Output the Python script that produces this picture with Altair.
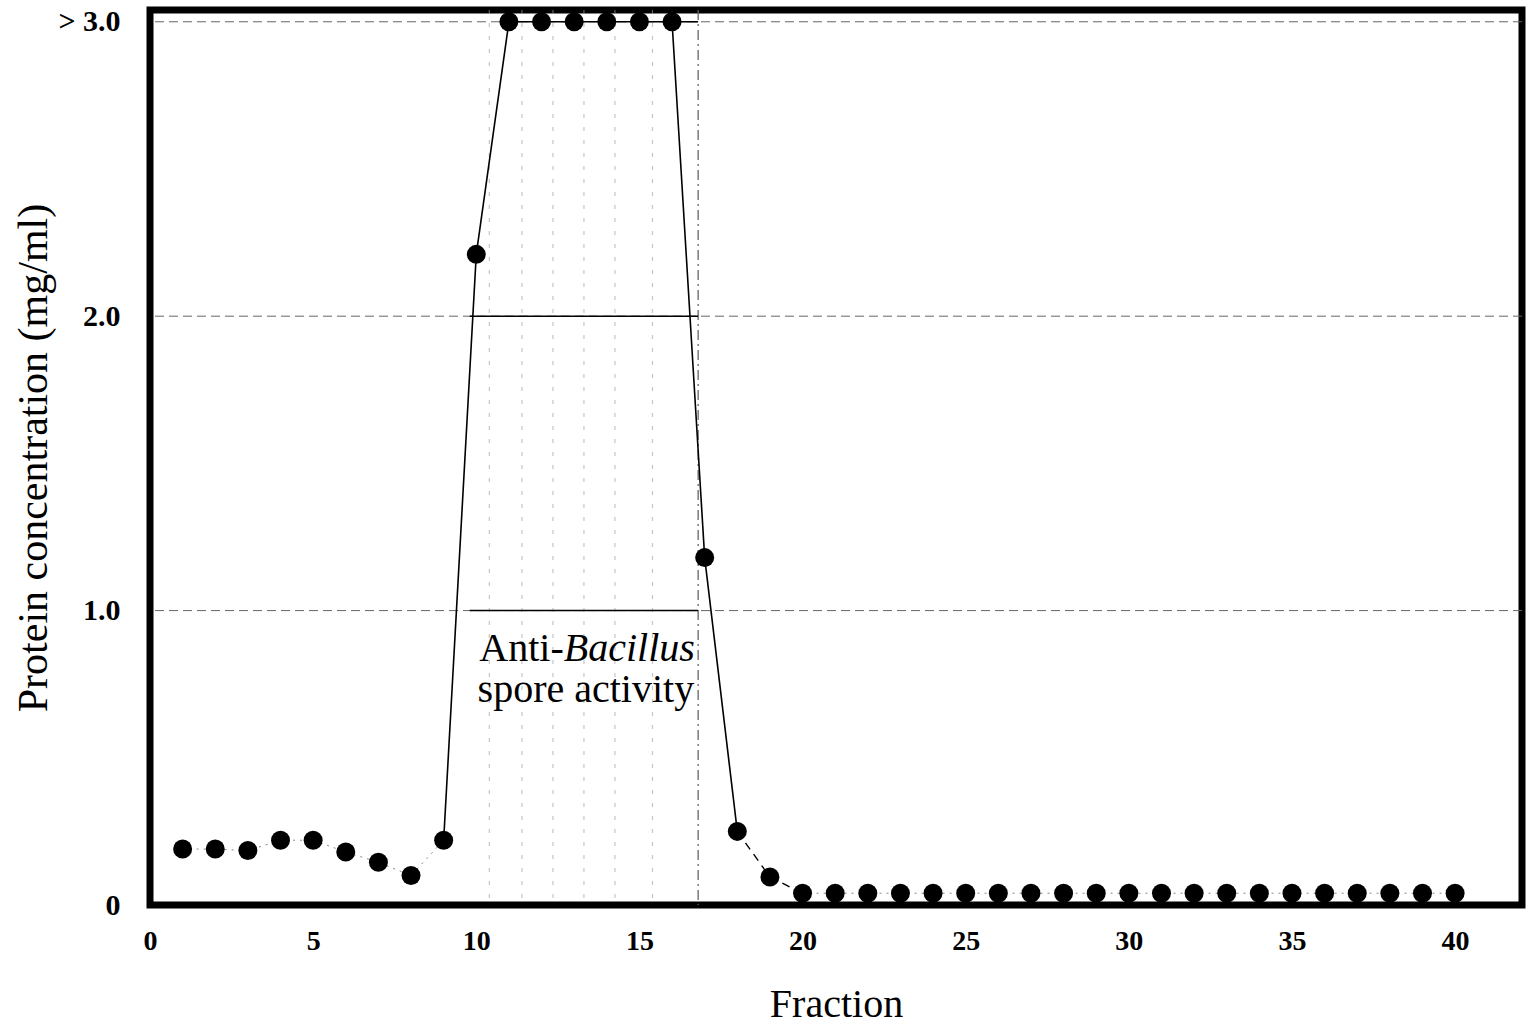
import altair as alt
import pandas as pd

# ---- data ----
fraction = list(range(1, 41))
protein = [0.19, 0.19, 0.185, 0.22, 0.22, 0.18, 0.145, 0.10, 0.22, 2.21,
           3.0, 3.0, 3.0, 3.0, 3.0, 3.0, 1.18, 0.25, 0.095] + [0.04] * 21

x_ticks = [0, 5, 10, 15, 20, 25, 30, 35, 40]
y_ticks = [0, 1, 2, 3]
grid_y = [1, 2, 3]

# activity region (anti-Bacillus spore activity)
hatch_x = [10.4, 11.4, 12.35, 13.3, 14.25, 15.4]
region_edge = [16.8]
box_y = [1.0, 2.0, 3.0]
box_x1 = [9.8, 9.8, 16.0]
box_x2 = [16.8, 16.8, 16.8]

label_text = ["Anti-", "Bacillus", "spore activity"]
label_x = [12.68, 12.68, 13.36]
label_y = [0.87, 0.87, 0.73]
label_style = ["normal", "italic", "normal"]
label_align = ["right", "left", "center"]

df = pd.DataFrame({"fraction": fraction, "protein": protein})
grid_df = pd.DataFrame({"protein": grid_y})
hatch_df = pd.DataFrame({"fraction": hatch_x})
edge_df = pd.DataFrame({"fraction": region_edge})
box_df = pd.DataFrame({"protein": box_y, "fraction": box_x1, "fraction2": box_x2})
lab_df = pd.DataFrame({"text": label_text, "fraction": label_x, "protein": label_y,
                       "style": label_style, "align": label_align})

FONT = "Liberation Serif"

x_scale = alt.Scale(domain=[0, 42.05], nice=False, zero=False)
y_scale = alt.Scale(domain=[0, 3.04], nice=False, zero=False)

x_axis = alt.Axis(values=x_ticks, title="Fraction", grid=False, domain=False, ticks=False,
                  labelFont=FONT, labelFontSize=28, labelFontWeight="bold", labelColor="black",
                  labelPadding=22, labelFlush=False,
                  titleFont=FONT, titleFontSize=40, titleFontWeight="normal", titleColor="black",
                  titleY=111, titleBaseline="alphabetic")
y_axis = alt.Axis(values=y_ticks, title="Protein concentration (mg/ml)",
                  labelExpr="datum.value == 3 ? '> 3.0' : (datum.value == 0 ? '0' : format(datum.value, '.1f'))",
                  grid=False, domain=False, ticks=False,
                  labelFont=FONT, labelFontSize=30, labelFontWeight="bold", labelColor="black",
                  labelPadding=30, labelBaseline="middle", labelFlush=False,
                  titleFont=FONT, titleFontSize=42, titleFontWeight="normal", titleColor="black",
                  titleX=-104, titleBaseline="alphabetic")

X = alt.X("fraction:Q", scale=x_scale, axis=x_axis)
Y = alt.Y("protein:Q", scale=y_scale, axis=y_axis)

grid = alt.Chart(grid_df).mark_rule(color="#666666", strokeWidth=1,
                                    strokeDash=[9, 5]).encode(y=Y)
hatch = alt.Chart(hatch_df).mark_rule(color="#a0a0a0", strokeWidth=1.2, strokeDash=[4, 9],
                                      opacity=0.6).encode(x=X)
edge = alt.Chart(edge_df).mark_rule(color="#666666", strokeWidth=1.3,
                                    strokeDash=[10, 4, 2, 4]).encode(x=X)
box = alt.Chart(box_df).mark_rule(color="black", strokeWidth=1.5).encode(
    x=X, x2="fraction2:Q", y=Y)

base = alt.Chart(df)
dotted = base.transform_calculate(
    grp="datum.fraction <= 9 ? 'a' : 'b'"
).transform_filter("datum.fraction <= 9 || datum.fraction >= 20").mark_line(
    color="#888888", strokeWidth=1, strokeDash=[2, 5]).encode(
    x=X, y=Y, detail=alt.Detail("grp:N"))
solid = base.transform_filter("datum.fraction >= 9 && datum.fraction <= 18").mark_line(
    color="black", strokeWidth=1.6).encode(x=X, y=Y)
dashed = base.transform_filter("datum.fraction >= 18 && datum.fraction <= 20").mark_line(
    color="black", strokeWidth=1.4, strokeDash=[8, 6]).encode(x=X, y=Y)
points = base.mark_point(filled=True, shape="circle", size=360, color="black",
                         opacity=1).encode(x=X, y=Y)

texts = []
for i in range(len(label_text)):
    texts.append(
        alt.Chart(lab_df.iloc[[i]]).mark_text(
            font=FONT, fontSize=40, fontStyle=label_style[i], align=label_align[i],
            baseline="middle", color="black").encode(x=X, y=Y, text="text:N")
    )

chart = alt.layer(grid, hatch, edge, box, dotted, solid, dashed, points, *texts).properties(
    width=1372, height=895,
    background="white",
    autosize=alt.AutoSizeParams(type="none"),
    padding={"left": 150, "top": 10, "right": 6, "bottom": 124},
).configure_view(stroke="black", strokeWidth=7)

chart.save("out.html", embed_options={"renderer": "svg", "actions": False})
